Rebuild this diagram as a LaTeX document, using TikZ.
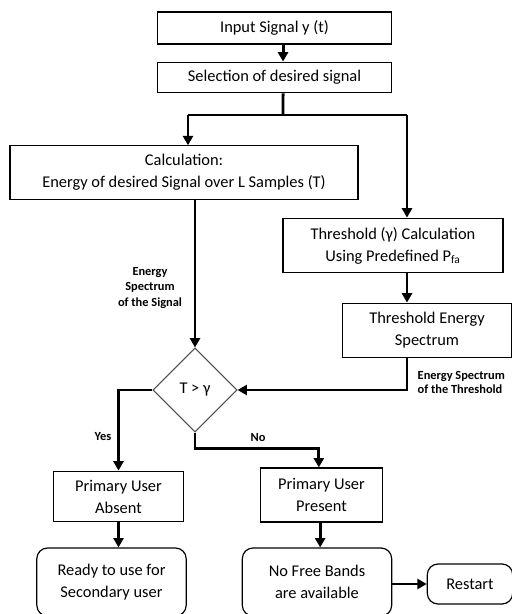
\documentclass[tikz,border=0pt]{standalone}
\usepackage{fontspec}
\setmainfont{Carlito}
\usepackage{tikz}
\usetikzlibrary{arrows.meta,shapes.geometric,positioning,calc}

\begin{document}
\begin{tikzpicture}[x=0.75pt,y=-0.75pt,
          box/.style={rectangle,draw=black,line width=0.9pt,align=center,
                      font=\fontsize{12.3}{16.5}\selectfont,inner sep=2pt},
          rbox/.style={box,rounded corners=8pt},
          decide/.style={diamond,draw=black!70,line width=0.8pt,aspect=1,
                         minimum size=63pt,inner sep=0pt,
                         font=\fontsize{12.3}{14}\selectfont},
          flow/.style={line width=2.2pt,line join=miter},
          arr/.style={flow,-{Triangle[length=7pt,width=7.5pt]}},
          lbl/.style={font=\fontsize{9.3}{11.6}\selectfont\bfseries,align=center},
        ]
        \useasboundingbox (0,0) rectangle (511,614);

        % top chain
        \node[box,minimum width=176pt,minimum height=24pt](input) at (274.5,28){Input Signal y (t)};
        \node[box,minimum width=176pt,minimum height=23pt](sel) at (274.5,77.5){Selection of desired signal};
        \draw[arr]([xshift=6.4pt]input.south)--([xshift=6.4pt]sel.north);
        \coordinate (split) at (283,115);
        \draw[flow]([xshift=6.4pt]sel.south)--(split);

        % two branches
        \node[box,minimum width=261pt,minimum height=40pt](calc) at (184,172.5)
          {Calculation:\\Energy of desired Signal over L Samples (T)};
        \node[box,minimum width=165pt,minimum height=41pt](thr) at (393,245.5)
          {Threshold (γ) Calculation\\Using Predefined P\textsubscript{fa}};
        \node[box,minimum width=127pt,minimum height=41pt](thren) at (427,330.5)
          {Threshold Energy\\Spectrum};
        \coordinate (splitl) at ($(split-|calc.north)+(4,0)$);
        \coordinate (splitr) at ($(split-|thr.north)+(14,0)$);
        \draw[flow](splitl)--(splitr);
        \draw[arr](splitl)--(splitl|-calc.north);
        \draw[arr](splitr)--(splitr|-thr.north);
        \draw[arr](splitr|-thr.south)--(splitr|-thren.north);

        % decision
        \node[decide](dec) at (195,390){T > γ};
        \draw[arr](calc.south-|dec.north)--(dec.north);
        \draw[arr](splitr|-thren.south)|-(dec.east);
        \node[lbl](sigl) at (150,288){Energy\\Spectrum\\of the Signal};
        \node[lbl,align=left,anchor=west,font=\fontsize{9.3}{10.5}\selectfont\bfseries](thrl) at (413,382)
          {Energy Spectrum\\of the Threshold};

        % outcomes
        \node[box,minimum width=97pt,minimum height=38pt](absent) at (118.5,496.5){Primary User\\Absent};
        \node[box,minimum width=92pt,minimum height=40.5pt](present) at (321.5,495){Primary User\\Present};
        \draw[arr](dec.west)-|(absent.north);
        \draw[arr](dec.south)--++(0,16)-|([xshift=-2pt]present.north);
        \node[lbl](yes) at (103,437){Yes};
        \node[lbl](no) at (258,438){No};

        \node[rbox,minimum width=112pt,minimum height=51pt](ready) at (111.5,582){Ready to use for\\Secondary user};
        \node[rbox,minimum width=112pt,minimum height=51pt](nofree) at (317,582){No Free Bands\\are available};
        \node[rbox,minimum width=64pt,minimum height=30pt](restart) at (470,584){Restart};
        \draw[arr](absent.south)--(absent.south|-ready.north);
        \draw[arr]([xshift=-1pt]present.south)--([xshift=-1pt]present.south|-nofree.north);
        \draw[arr](nofree.east|-restart.west)--(restart.west);
      \end{tikzpicture}
\end{document}
